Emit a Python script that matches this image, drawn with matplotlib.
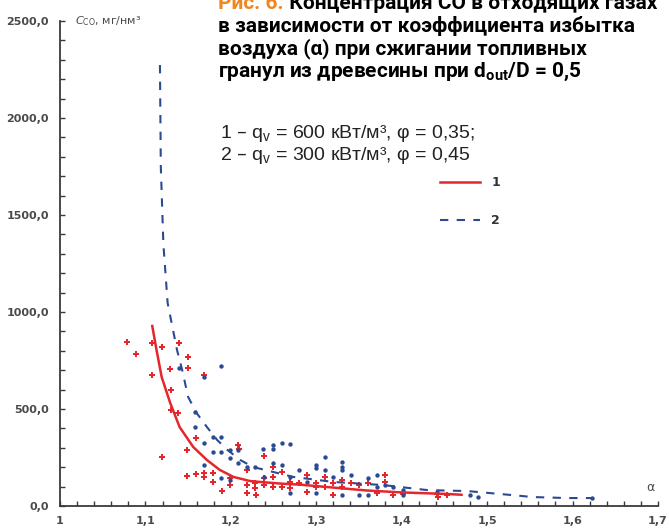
import numpy as np
import matplotlib.pyplot as plt
from matplotlib.ticker import FuncFormatter, MultipleLocator

# scatter, series 1 (q_v = 600)
alpha1 = [1.078, 1.089, 1.108, 1.119, 1.108, 1.129, 1.139, 1.150, 1.150, 1.130,
          1.130, 1.138, 1.119, 1.169, 1.159, 1.149, 1.149, 1.159, 1.169, 1.169,
          1.179, 1.179, 1.190, 1.199, 1.199, 1.208, 1.210, 1.219, 1.219, 1.228,
          1.228, 1.219, 1.229, 1.239, 1.239, 1.239, 1.249, 1.249, 1.249, 1.260,
          1.260, 1.269, 1.269, 1.280, 1.289, 1.289, 1.300, 1.300, 1.310, 1.310,
          1.320, 1.320, 1.330, 1.330, 1.341, 1.350, 1.361, 1.371, 1.380, 1.380,
          1.390, 1.402, 1.441, 1.443, 1.453]
co1 = [845, 784, 840, 820, 675, 706, 840, 768, 711, 598,
       495, 480, 253, 675, 350, 289, 155, 165, 170, 150,
       170, 124, 77, 144, 108, 314, 294, 186, 67, 119,
       93, 108, 57, 144, 108, 258, 201, 150, 98, 175,
       98, 124, 93, 119, 160, 72, 119, 98, 150, 98,
       119, 57, 134, 98, 119, 108, 119, 67, 160, 124,
       57, 62, 62, 46, 57]

# scatter, series 2 (q_v = 300)
alpha2 = [1.189, 1.169, 1.139, 1.158, 1.158, 1.169, 1.179, 1.189, 1.179, 1.169,
          1.189, 1.199, 1.208, 1.199, 1.208, 1.219, 1.189, 1.199, 1.228, 1.238,
          1.239, 1.249, 1.249, 1.249, 1.260, 1.260, 1.269, 1.269, 1.269, 1.280,
          1.289, 1.300, 1.300, 1.300, 1.310, 1.310, 1.320, 1.330, 1.330, 1.330,
          1.330, 1.341, 1.350, 1.361, 1.361, 1.371, 1.371, 1.380, 1.390, 1.402,
          1.402, 1.441, 1.480, 1.489, 1.623]
co2 = [722, 665, 711, 485, 407, 325, 356, 356, 278, 211,
       278, 289, 289, 247, 222, 201, 144, 134, 201, 294,
       150, 314, 294, 222, 325, 211, 320, 150, 67, 186,
       124, 211, 196, 67, 253, 186, 150, 227, 201, 186,
       57, 160, 57, 144, 57, 160, 98, 108, 98, 57,
       82, 72, 57, 46, 41]

# approximating curves
curve1_x = [1.108, 1.113, 1.119, 1.129, 1.140, 1.156, 1.172, 1.187, 1.203, 1.222,
            1.234, 1.26, 1.281, 1.32, 1.359, 1.40, 1.453, 1.47]
curve1_y = [928, 804, 665, 531, 407, 304, 237, 186, 150, 129,
            124, 115, 110, 95, 80, 70, 62, 58]
curve2_x = [1.117, 1.118, 1.121, 1.126, 1.137, 1.143, 1.150, 1.160, 1.172, 1.184, 1.196,
            1.211, 1.226, 1.273, 1.320, 1.378, 1.430, 1.477, 1.515, 1.554, 1.594, 1.623]
curve2_y = [2273, 1750, 1350, 1046, 804, 701, 562, 479, 407, 340, 289,
            237, 201, 150, 124, 108, 82, 77, 62, 46, 41, 41]

title_lines = ["в зависимости от коэффициента избытка",
               "воздуха (α) при сжигании топливных",
               r"гранул из древесины при d$_{\mathregular{out}}$/D = 0,5"]

RED = '#e5262c'
BLUE = '#2b4a94'
AX = '#3a3a3a'
TXT = '#4a4a4a'

fig = plt.figure(figsize=(6.69, 5.30), dpi=100)
ax = fig.add_axes([60/669, 24/530, 598/669, 485/530])

ax.scatter(alpha1, co1, marker='P', s=16, color=RED, linewidths=0, zorder=3)
ax.scatter(alpha2, co2, marker='o', s=10, color=BLUE, linewidths=0, zorder=3)
l1, = ax.plot(curve1_x, curve1_y, color=RED, lw=1.8, zorder=4, label='1')
l2, = ax.plot(curve2_x, curve2_y, color=BLUE, lw=1.5, dashes=(4, 4), zorder=4, label='2')

ax.set_xlim(1, 1.7)
ax.set_ylim(0, 2500)
for s in ['top', 'right']:
    ax.spines[s].set_visible(False)
for s in ['left', 'bottom']:
    ax.spines[s].set_color(AX)
    ax.spines[s].set_linewidth(1.3)

ax.xaxis.set_major_locator(MultipleLocator(0.1))
ax.xaxis.set_minor_locator(MultipleLocator(0.02))
ax.yaxis.set_major_locator(MultipleLocator(500))
ax.yaxis.set_minor_locator(MultipleLocator(100))
ax.xaxis.set_major_formatter(FuncFormatter(lambda v, p: ('%g' % round(v, 2)).replace('.', ',')))
ax.yaxis.set_major_formatter(FuncFormatter(lambda v, p: ('%.1f' % v).replace('.', ',')))
ax.tick_params(which='both', direction='in', length=3.5, width=1, color=AX)
ax.tick_params(axis='x', pad=7)
ax.tick_params(axis='y', pad=8)
for lab in ax.get_xticklabels() + ax.get_yticklabels():
    lab.set_fontsize(8)
    lab.set_fontweight('bold')
    lab.set_color(TXT)

ax.text(1.018, 2500, r"$\mathit{C}_{\mathregular{CO}}$, мг/нм³", fontsize=8,
        color=TXT, va='center', ha='left')
ax.text(1.691, 93, 'α', fontsize=9, color=TXT, ha='center', va='center')

# title block (first line cut off at the top edge, as in the source)
t0 = fig.text(218/669, 1 - 9/530, "Рис. 6.", fontsize=15, fontweight='bold',
              color='#f0861e', family='Roboto', va='baseline')
ax.annotate(" Концентрация СО в отходящих газах", xy=(1, 0), xycoords=t0,
            fontsize=15, fontweight='bold', color='black', family='Roboto',
            va='bottom', annotation_clip=False)
for i, line in enumerate(title_lines):
    fig.text(218/669, 1 - (31.5 + 22.5*i)/530, line, fontsize=15, fontweight='bold',
             color='black', family='Roboto', va='baseline')

fig.text(220/669, 1 - 133/530, "1 – q$_{\\mathregular{v}}$ = 600 кВт/м³, φ = 0,35;",
         fontsize=14, family='Liberation Sans', color='#222222', va='center')
fig.text(220/669, 1 - 155/530, "2 – q$_{\\mathregular{v}}$ = 300 кВт/м³, φ = 0,45",
         fontsize=14, family='Liberation Sans', color='#222222', va='center')

leg = ax.legend(handles=[l1, l2], loc='upper left',
                bbox_to_anchor=(440/669, 1 - 176/530), bbox_transform=fig.transFigure,
                frameon=False, borderpad=0, borderaxespad=0, handlelength=3.2,
                handletextpad=0.9, labelspacing=2.0,
                prop={'size': 9, 'weight': 'bold'})
for t in leg.get_texts():
    t.set_color('#333333')

fig.savefig('out.png', dpi=100)
